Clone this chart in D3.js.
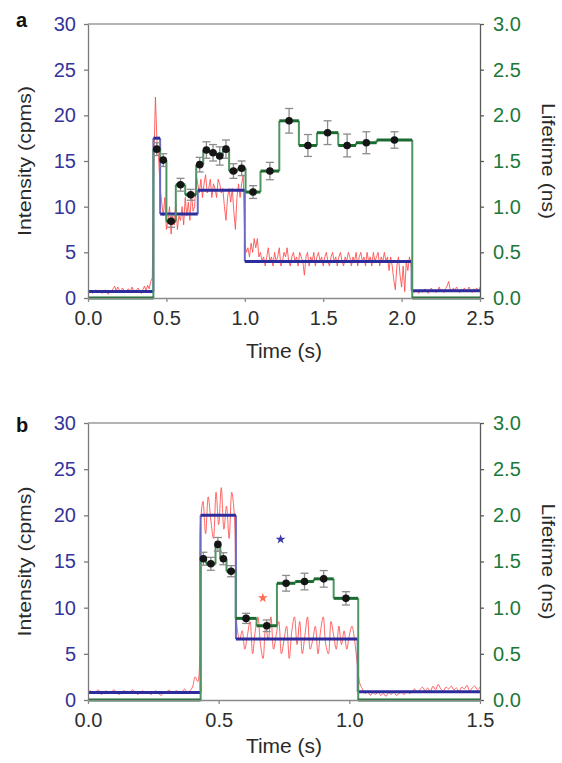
<!DOCTYPE html>
<html>
<head>
<meta charset="utf-8">
<script src="https://cdn.jsdelivr.net/npm/d3@7"></script>
<style>
  html, body { margin: 0; padding: 0; background: #fff; }
  svg { display: block; font-family: "Liberation Sans", Arial, Helvetica, sans-serif; }
</style>
</head>
<body>
<svg id="chart" width="562" height="763"></svg>
<script>
// ---- axis ticks ----
const intensityTicks = [0, 5, 10, 15, 20, 25, 30];
const lifetimeTicks = [0, 0.5, 1.0, 1.5, 2.0, 2.5, 3.0];
const timeTicksA = [0, 0.5, 1.0, 1.5, 2.0, 2.5];
const timeTicksB = [0, 0.5, 1.0, 1.5];

// ---- panel a: raw intensity trace (cpms), sampled every 10 ms ----
const sampleStep = 0.01;
const traceA = [
  0.6, 0.8, 0.7, 0.5, 0.7, 0.9, 0.6, 0.7, 0.8, 0.5,
  0.7, 0.9, 0.6, 0.4, 0.8, 0.7, 1.0, 1.3, 0.8, 1.2,
  0.9, 0.7, 1.1, 0.8, 0.6, 0.9, 1.0, 0.7, 1.2, 0.8,
  0.6, 0.9, 1.1, 0.7, 0.5, 0.9, 1.3, 0.8, 1.4, 1.0,
  1.8, 2.2,
  15, 22, 17, 15.5, 12, 10.5, 9, 11,
  7.5, 8.5, 10, 7, 9, 8, 10.5, 7.5, 9, 8.5,
  10, 8, 11, 9, 10.5, 8.5, 11.5, 9.5, 10, 13.5,
  12.5, 11.5, 13, 11, 12.5, 13.5, 11.5, 12, 13, 11,
  12.5, 12, 11, 13, 12.5, 11.5, 12, 10, 8.5, 11,
  12, 10.5, 12, 9.5, 7.5, 11, 12.5, 11, 12.5, 13.5,
  6, 5, 5.5, 4.5, 6, 5, 6.5, 5.5, 6.5, 4.5,
  5, 4, 4.5, 3.5, 4.5, 5.5, 4, 4.5, 3.5, 5,
  4, 4.5, 5.5, 3.5, 4, 5, 4.5, 5.5, 4, 3.5,
  4.5, 5, 4, 4.5, 3.5, 5, 4.5, 4, 2.5, 4.5,
  5, 3.5, 4.5, 4, 5, 3.5, 4.5, 5, 4, 4.5,
  3.5, 4.5, 5, 4, 3.5, 4.5, 5, 4, 4.5, 3.5,
  4.5, 5, 4, 3.5, 4.5, 4, 5, 4.5, 3.5, 4.5,
  4, 5, 3.5, 4.5, 5, 4, 4.5, 3.5, 5, 4,
  4.5, 3.5, 5, 4, 4.5, 5, 3.5, 4.5, 4, 5,
  4, 4.5, 3, 4.5, 3.5, 2, 0.9, 3.5, 4.5, 2.5,
  1.2, 3.5, 0.7, 4, 3, 4.5, 3.8,
  0.9, 0.6, 0.8,
  0.7, 0.5, 0.9, 0.6, 0.8, 1.0, 0.7, 0.5, 0.8, 1.1,
  0.7, 0.9, 0.6, 0.8, 1.2, 0.7, 0.9, 0.6, 1.0, 1.3,
  1.8, 0.9, 0.7, 1.1, 0.8, 1.2, 0.9, 0.6, 1.0, 0.8,
  1.1, 0.7, 0.9, 1.2, 0.8, 0.6, 1.0, 0.9, 1.1, 0.7, 1.2
];

// panel a: fitted intensity levels (cpms) between change points (s)
const intensityEdgesA = [0, 0.417, 0.46, 0.70, 1.0, 2.064, 2.5];
const intensityLevelsA = [0.7, 17.5, 9.2, 11.8, 4.0, 0.8];

// panel a: lifetime per bin (ns) with uncertainty
const lifetimeEdgesA = [0.417, 0.46, 0.50, 0.56, 0.62, 0.69, 0.735, 0.775, 0.82, 0.86,
  0.90, 0.955, 1.005, 1.10, 1.22, 1.345, 1.46, 1.596, 1.709, 1.841, 2.068];
const lifetimeA = [1.63, 1.51, 0.84, 1.24, 1.13, 1.46, 1.62, 1.59, 1.555, 1.63,
  1.39, 1.42, 1.16, 1.39, 1.94, 1.67, 1.81, 1.67, 1.70, 1.73];
const lifetimeErrA = [0.07, 0.07, 0.065, 0.07, 0.06, 0.08, 0.09, 0.09, 0.1, 0.1,
  0.08, 0.08, 0.07, 0.095, 0.135, 0.12, 0.13, 0.125, 0.12, 0.09];

// ---- panel b ----
const traceB = [
  0.8, 1.0, 0.7, 0.9, 1.1, 0.6, 0.8, 1.0, 0.7, 0.9,
  1.1, 0.8, 0.6, 0.9, 1.0, 0.7, 0.8, 1.1, 0.9, 0.6,
  0.8, 1.0, 0.7, 0.9, 0.6, 0.8, 1.0, 0.7, 0.5, 0.9,
  0.8, 1.1, 0.7, 0.9, 1.0, 0.8, 0.9, 1.2, 0.8, 1.0,
  1.4, 2.5, 2.0,
  19, 21.5, 18, 22, 19.5, 17.5, 22.5, 19, 23, 18.5, 21, 17.5, 22.5, 20,
  8, 6.5, 7.5,
  5.5, 7, 8.5, 5, 7.5, 9, 6, 4.5, 8, 6.5,
  9, 5.5, 7, 8.5, 5, 6.5, 8, 4.5, 7.5, 9,
  6, 8.5, 5, 7, 9, 5.5, 6.5, 8, 5, 7.5,
  9, 6, 5, 8.5, 7, 5.5, 8, 6, 7.5, 5.5,
  7, 8, 6.5, 4,
  1.8, 1.2, 0.7, 0.9, 0.5, 0.8,
  0.6, 0.9, 0.5, 0.7, 0.4, 0.8, 0.6, 0.9, 0.5, 0.7,
  0.8, 0.6, 1.0, 0.7, 0.9, 1.2, 0.8, 1.1, 1.4, 1.0,
  1.3, 0.9, 1.5, 1.1, 1.7, 1.2, 1.0, 1.4, 1.2, 1.5,
  1.1, 1.3, 0.9, 1.4, 1.2, 1.6, 1.0, 1.3, 1.5, 1.1, 1.4
];
const intensityEdgesB = [0, 0.431, 0.566, 1.032, 1.5];
const intensityLevelsB = [0.8, 20, 6.6, 0.9];

const lifetimeEdgesB = [0.431, 0.452, 0.488, 0.506, 0.530, 0.565, 0.645, 0.723, 0.793, 0.864, 0.940, 1.034];
const lifetimeB = [1.53, 1.475, 1.685, 1.53, 1.395, 0.884, 0.804, 1.264, 1.283, 1.312, 1.101];
const lifetimeErrB = [0.07, 0.07, 0.075, 0.065, 0.06, 0.055, 0.063, 0.085, 0.09, 0.09, 0.072];

// markers in panel b: [time (s), intensity (cpms)]
const starBlueB = [0.737, 17.4];
const starRedB = [0.669, 11.05];

// ---- drawing ----
const svg = d3.select("#chart");
const left = 88, right = 480;
const FONT = '"Liberation Sans", Arial, Helvetica, sans-serif';
const BLUE_TXT = "#34349a", GREEN_TXT = "#1c7838", DARK = "#2a2a2a";

function stepSegments(edges, levels) {
  const h = [], v = [];
  for (let i = 0; i < levels.length; i++) {
    h.push([edges[i], levels[i], edges[i + 1], levels[i]]);
    if (i > 0) v.push([edges[i], levels[i - 1], edges[i], levels[i]]);
  }
  return { h, v };
}

function drawPanel(opts) {
  const { top, bottom, tMax, timeTicks, trace, iEdges, iLevels,
          lEdges, lVals, lErr, label, stars, curve } = opts;
  const g = svg.append("g");

  const x = d3.scaleLinear().domain([0, tMax]).range([left, right]);
  const yI = d3.scaleLinear().domain([0, 30]).range([bottom, top]);
  const yL = d3.scaleLinear().domain([0, 3]).range([bottom, top]);

  // frame top
  g.append("line").attr("x1", left).attr("x2", right).attr("y1", top).attr("y2", top)
    .attr("stroke", "#9a9a9a").attr("stroke-width", 1.5);

  // raw trace
  const line = d3.line().x((d, i) => x(i * sampleStep)).y(d => yI(d)).curve(curve);
  g.append("path").datum(trace).attr("d", line)
    .attr("fill", "none").attr("stroke", "#ff4a4a").attr("stroke-width", 1)
    .attr("stroke-opacity", 0.85).attr("stroke-linejoin", "round");

  // intensity fit
  const bi = stepSegments(iEdges, iLevels);
  g.selectAll(null).data(bi.v).join("line")
    .attr("x1", d => x(d[0])).attr("y1", d => yI(d[1]))
    .attr("x2", d => x(d[2])).attr("y2", d => yI(d[3]))
    .attr("stroke", "#6a6ac4").attr("stroke-width", 2);
  g.selectAll(null).data(bi.h).join("line")
    .attr("x1", d => x(d[0])).attr("y1", d => yI(d[1]))
    .attr("x2", d => x(d[2])).attr("y2", d => yI(d[3]))
    .attr("stroke", "#2c2c9c").attr("stroke-width", 3);

  // lifetime steps (zero outside the burst)
  const fullEdges = [0].concat(lEdges, [tMax]);
  const fullVals = [0].concat(lVals, [0]);
  const bl = stepSegments(fullEdges, fullVals);
  g.selectAll(null).data(bl.v).join("line")
    .attr("x1", d => x(d[0])).attr("y1", d => yL(d[1]))
    .attr("x2", d => x(d[2])).attr("y2", d => yL(d[3]))
    .attr("stroke", "#4f9463").attr("stroke-width", 2);
  g.selectAll(null).data(bl.h).join("line")
    .attr("x1", d => x(d[0])).attr("y1", d => yL(d[1]))
    .attr("x2", d => x(d[2])).attr("y2", d => yL(d[3]))
    .attr("stroke", "#1b6a30").attr("stroke-width", 3);

  // lifetime points with error bars at bin centres
  const pts = lVals.map((v, i) => ({ t: (lEdges[i] + lEdges[i + 1]) / 2, v, e: lErr[i] }));
  const eb = g.append("g").attr("stroke", "#8c8c8c").attr("stroke-width", 1.3);
  eb.selectAll(null).data(pts).join("line")
    .attr("x1", d => x(d.t)).attr("x2", d => x(d.t))
    .attr("y1", d => yL(d.v - d.e)).attr("y2", d => yL(d.v + d.e));
  eb.selectAll(null).data(pts.flatMap(d => [{ t: d.t, y: d.v - d.e }, { t: d.t, y: d.v + d.e }]))
    .join("line")
    .attr("x1", d => x(d.t) - 4).attr("x2", d => x(d.t) + 4)
    .attr("y1", d => yL(d.y)).attr("y2", d => yL(d.y));
  g.selectAll(null).data(pts).join("circle")
    .attr("cx", d => x(d.t)).attr("cy", d => yL(d.v)).attr("r", 3.8)
    .attr("fill", "#151515");

  if (stars) {
    const sym = d3.symbol().type(d3.symbolStar).size(30);
    stars.forEach(s => {
      g.append("path").attr("d", sym())
        .attr("transform", `translate(${x(s.p[0])},${yI(s.p[1])})`)
        .attr("fill", s.color);
    });
  }

  // axes
  const ax = (sel, color, textColor) => {
    sel.selectAll(".domain").attr("stroke", color).attr("stroke-width", 1.3);
    sel.selectAll(".tick line").attr("stroke", color).attr("stroke-width", 1.3);
    sel.selectAll(".tick text").attr("fill", textColor)
      .style("font-family", FONT).style("font-size", "20px");
  };
  g.append("g").attr("transform", `translate(${left},0)`)
    .call(d3.axisLeft(yI).tickValues(intensityTicks).tickSize(4).tickSizeOuter(0).tickPadding(8))
    .call(s => ax(s, "#7a7a7a", BLUE_TXT));
  g.append("g").attr("transform", `translate(${right},0)`)
    .call(d3.axisRight(yL).tickValues(lifetimeTicks).tickFormat(d3.format(".1f"))
      .tickSize(4).tickSizeOuter(0).tickPadding(9))
    .call(s => ax(s, "#5a5a5a", GREEN_TXT));
  g.append("g").attr("transform", `translate(0,${bottom})`)
    .call(d3.axisBottom(x).tickValues(timeTicks).tickFormat(d3.format(".1f"))
      .tickSize(4).tickSizeOuter(0).tickPadding(9))
    .call(s => ax(s, "#8a8a8a", "#2e2e2e"));

  // titles
  const mid = (top + bottom) / 2;
  g.append("text").attr("transform", `translate(31,${mid}) rotate(-90)`)
    .attr("text-anchor", "middle").attr("textLength", 150).attr("lengthAdjust", "spacingAndGlyphs")
    .style("font-family", FONT).style("font-size", "18px").attr("fill", DARK)
    .text("Intensity (cpms)");
  g.append("text").attr("transform", `translate(542,${mid}) rotate(90)`)
    .attr("text-anchor", "middle").attr("textLength", 116).attr("lengthAdjust", "spacingAndGlyphs")
    .style("font-family", FONT).style("font-size", "18px").attr("fill", DARK)
    .text("Lifetime (ns)");
  g.append("text").attr("x", (left + right) / 2).attr("y", opts.titleY)
    .attr("text-anchor", "middle")
    .style("font-family", FONT).style("font-size", "21px").attr("fill", DARK)
    .text("Time (s)");
  g.append("text").attr("x", 16).attr("y", opts.labelY)
    .style("font-family", FONT).style("font-size", "20px").style("font-weight", "bold")
    .attr("fill", "#111").text(label);
}

drawPanel({
  top: 24, bottom: 298, tMax: 2.5, timeTicks: timeTicksA, trace: traceA,
  iEdges: intensityEdgesA, iLevels: intensityLevelsA,
  lEdges: lifetimeEdgesA, lVals: lifetimeA, lErr: lifetimeErrA,
  label: "a", titleY: 358, labelY: 27, curve: d3.curveLinear
});
drawPanel({
  top: 423, bottom: 700, tMax: 1.5, timeTicks: timeTicksB, trace: traceB,
  iEdges: intensityEdgesB, iLevels: intensityLevelsB,
  lEdges: lifetimeEdgesB, lVals: lifetimeB, lErr: lifetimeErrB,
  label: "b", titleY: 753, labelY: 432, curve: d3.curveCatmullRom.alpha(0.5),
  stars: [{ p: starBlueB, color: "#3a3aa6" }, { p: starRedB, color: "#ff6a50" }]
});
</script>
</body>
</html>
